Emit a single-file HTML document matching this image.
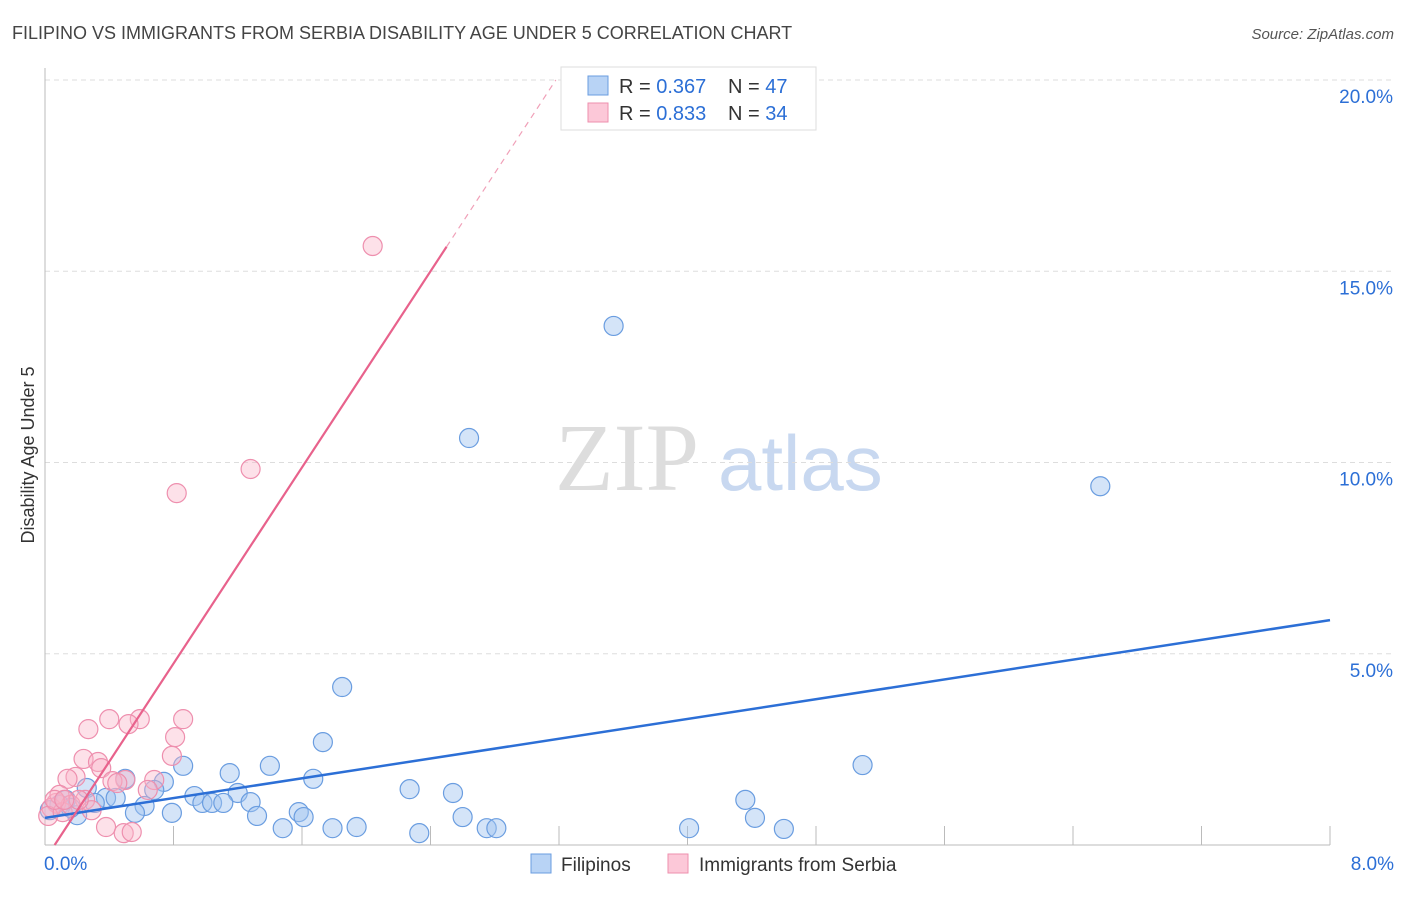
<!DOCTYPE html>
<html><head><meta charset="utf-8"><style>
body{margin:0;background:#fff;font-family:"Liberation Sans",sans-serif;}
svg text{font-family:"Liberation Sans",sans-serif;}
</style></head><body>
<svg id="c" width="1406" height="892">
<text x="12" y="39" font-size="18" fill="#444">FILIPINO VS IMMIGRANTS FROM SERBIA DISABILITY AGE UNDER 5 CORRELATION CHART</text>
<text x="1394" y="39" font-size="15" fill="#555" font-style="italic" text-anchor="end">Source: ZipAtlas.com</text>
<text transform="translate(34,455) rotate(-90)" font-size="18" fill="#333" text-anchor="middle">Disability Age Under 5</text>
<text x="555" y="490" font-size="96" fill="#ddd" style="font-family:'Liberation Serif',serif">ZIP</text>
<text x="718" y="490" font-size="78" fill="#c8d8f0">atlas</text>
<g id="grid"></g><g id="pts"></g><g id="lines"></g>
<g>
<rect x="561" y="67" width="255" height="63" fill="#fff" stroke="#ddd"/>
<rect x="588" y="76" width="20" height="19" fill="#b8d3f5" stroke="#6a9de0"/>
<rect x="588" y="103" width="20" height="19" fill="#fcc8d8" stroke="#ee8fae"/>
<text x="619" y="93" font-size="20" fill="#333">R = <tspan fill="#2c6fd6">0.367</tspan></text>
<text x="728" y="93" font-size="20" fill="#333">N = <tspan fill="#2c6fd6">47</tspan></text>
<text x="619" y="120" font-size="20" fill="#333">R = <tspan fill="#2c6fd6">0.833</tspan></text>
<text x="728" y="120" font-size="20" fill="#333">N = <tspan fill="#2c6fd6">34</tspan></text>
</g>
<g>
<rect x="531" y="854" width="20" height="19" fill="#b8d3f5" stroke="#6a9de0"/>
<text x="561" y="871" font-size="19" fill="#333">Filipinos</text>
<rect x="668" y="854" width="20" height="19" fill="#fcc8d8" stroke="#ee8fae"/>
<text x="699" y="871" font-size="19" fill="#333">Immigrants from Serbia</text>
</g>
</svg>
<script>
const xTickLabels=["0.0%","8.0%"];
const yTicks=[5,10,15,20];
const yTickLabels=["5.0%","10.0%","15.0%","20.0%"];
const blueX=[3.54,2.64,6.57,1.85,1.73,5.09,0.86,1.40,1.15,1.67,0.50,0.74,2.27,2.54,0.93,0.38,4.36,0.68,1.20,0.98,1.04,1.11,1.28,0.62,0.26,1.58,0.56,0.79,1.32,1.61,2.60,4.42,0.13,1.48,1.79,1.94,2.33,2.75,2.81,4.01,4.60,0.20,0.09,0.03,0.16,0.31,0.44];
const blueY=[13.57,10.64,9.38,4.13,2.69,2.09,2.07,2.07,1.88,1.73,1.73,1.65,1.46,1.36,1.28,1.23,1.18,1.44,1.36,1.10,1.10,1.10,1.12,1.02,1.49,0.86,0.84,0.84,0.76,0.73,0.73,0.71,1.18,0.44,0.44,0.47,0.31,0.44,0.44,0.44,0.42,0.78,1.05,0.91,0.97,1.10,1.23];
const pinkX=[2.04,1.28,0.82,0.86,0.59,0.40,0.52,0.27,0.81,0.79,0.24,0.33,0.35,0.19,0.14,0.68,0.50,0.42,0.64,0.25,0.29,0.38,0.49,0.54,0.07,0.04,0.02,0.09,0.11,0.16,0.21,0.06,0.12,0.45];
const pinkY=[15.66,9.83,9.20,3.29,3.29,3.29,3.16,3.03,2.82,2.33,2.25,2.17,2.01,1.78,1.73,1.70,1.70,1.67,1.44,1.18,0.91,0.47,0.31,0.34,1.10,0.97,0.76,1.31,0.86,1.05,1.18,1.18,1.18,1.62];
const blueTrend=[0.71,5.88];
const pinkTrend=[0.06,6.41];
const NS="http://www.w3.org/2000/svg";
const X=v=>45+v/8*1285, Y=v=>845-v*38.25;
function mk(t,a,p){const e=document.createElementNS(NS,t);for(const k in a)e.setAttribute(k,a[k]);p.appendChild(e);return e;}
const g=document.getElementById('grid');
yTicks.forEach((t,i)=>{
 const l=mk('line',{x1:45,x2:1395,y1:Y(t),y2:Y(t),stroke:'#ddd','stroke-dasharray':'5,4'},g);
 
 
 const tx=mk('text',{x:1393,y:Y(t)+23,'font-size':19,fill:'#2c6fd6','text-anchor':'end'},g);tx.textContent=yTickLabels[i];
 
 
});
const ax=mk('line',{x1:45,x2:45,y1:68,y2:845,stroke:'#bbb'},g);


const xa=mk('line',{x1:45,x2:1330,y1:845,y2:845,stroke:'#bbb'},g);


for(let i=1;i<=10;i++){const t=mk('line',{x1:X(i*0.8),x2:X(i*0.8),y1:826,y2:845,stroke:'#bbb'},g);
 
 }
[[0,'start',44],[8,'end',1394]].forEach(([v,a,x],i)=>{const t=mk('text',{x:x,y:870,'font-size':19,fill:'#2c6fd6','text-anchor':a},g);t.textContent=xTickLabels[i];
 
 });
const p=document.getElementById('pts');
blueX.forEach((v,i)=>{const c=mk('circle',{cx:X(v),cy:Y(blueY[i]),r:9.5,fill:'rgba(160,196,240,0.45)',stroke:'#6a9de0','stroke-width':1.2},p);
 
 });
pinkX.forEach((v,i)=>{const c=mk('circle',{cx:X(v),cy:Y(pinkY[i]),r:9.5,fill:'rgba(250,180,200,0.4)',stroke:'#ee8fae','stroke-width':1.2},p);
 
 });
const L=document.getElementById('lines');
const bl=mk('line',{x1:X(0),y1:Y(blueTrend[0]),x2:X(8),y2:Y(blueTrend[1]),stroke:'#2c6fd6','stroke-width':2.5},L);


const px2=2.5, px3=pinkTrend[0]+20/pinkTrend[1];
const pl=mk('line',{x1:X(pinkTrend[0]),y1:Y(0),x2:X(px2),y2:Y((px2-pinkTrend[0])*pinkTrend[1]),stroke:'#e8628c','stroke-width':2.2},L);


const pd=mk('line',{x1:X(px2),y1:Y((px2-pinkTrend[0])*pinkTrend[1]),x2:X(px3),y2:Y(20),stroke:'#f0a0b8','stroke-width':1.2,'stroke-dasharray':'6,5'},L);


</script>
</body></html>
